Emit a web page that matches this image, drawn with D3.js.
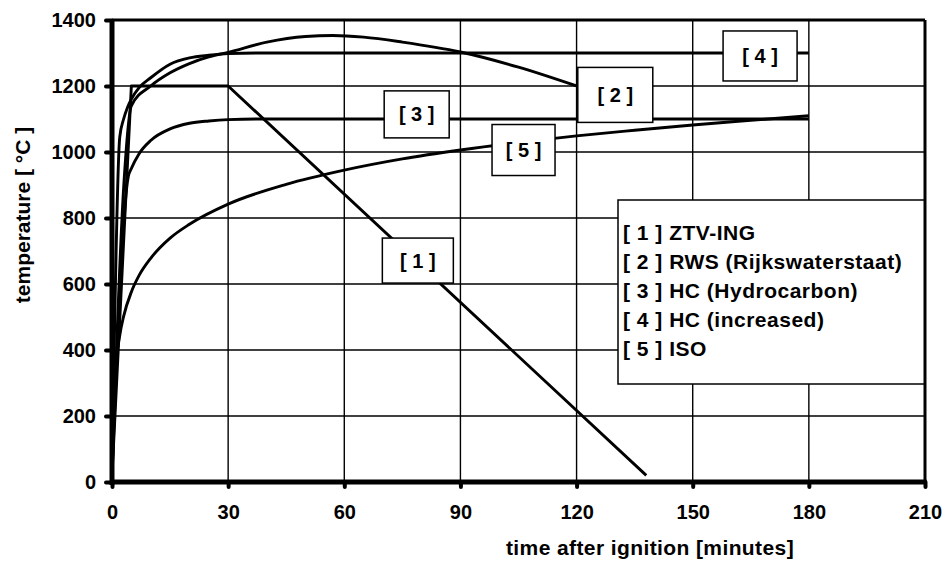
<!DOCTYPE html>
<html>
<head>
<meta charset="utf-8">
<script src="https://cdn.jsdelivr.net/npm/d3@7"></script>
<style>
  body { margin: 0; background: #fff; }
  svg { display: block; font-family: "Liberation Sans", Arial, sans-serif; font-weight: bold; }
</style>
</head>
<body>
<svg id="chart" width="948" height="563"></svg>
<script>
// ---- data -------------------------------------------------------------
const xTicks = [0, 30, 60, 90, 120, 150, 180, 210];
const yTicks = [0, 200, 400, 600, 800, 1000, 1200, 1400];

// [1] ZTV-ING
const ztvTime = [0, 5, 30, 138];
const ztvTemp = [20, 1200, 1200, 20];

// [2] RWS (Rijkswaterstaat)
const rwsTime = [0, 3, 5, 10, 15, 20, 25, 30, 40, 50, 57, 65, 75, 90, 105, 120];
const rwsTemp = [20, 890, 1140, 1200, 1240, 1268, 1288, 1302, 1333, 1350, 1353, 1348, 1333, 1303, 1257, 1200];

// [3] HC (Hydrocarbon)
const hcTime = [0, 4.2, 5, 7, 10, 15, 20, 25, 30, 40, 180];
const hcTemp = [20, 925, 950, 995, 1035, 1070, 1087, 1094, 1098, 1100, 1100];

// [4] HC (increased)
const hciTime = [0, 2, 3, 4, 5, 7, 10, 15, 20, 25, 30, 40, 180];
const hciTemp = [20, 1045, 1100, 1135, 1160, 1195, 1225, 1266, 1285, 1293, 1298, 1300, 1300];

// [5] ISO
const isoTime = [0, 1, 2, 3, 5, 7, 10, 15, 20, 30, 45, 60, 75, 90, 105, 120, 135, 150, 165, 180];
const isoTemp = [20, 349, 444, 502, 576, 626, 678, 739, 781, 842, 902, 945, 979, 1006, 1029, 1049, 1066, 1082, 1096, 1110];

const seriesTags = ["[ 1 ]", "[ 2 ]", "[ 3 ]", "[ 4 ]", "[ 5 ]"];
const seriesNames = ["ZTV-ING", "RWS (Rijkswaterstaat)", "HC (Hydrocarbon)", "HC (increased)", "ISO"];

// ---- layout -----------------------------------------------------------
const svg = d3.select("#chart");
const plotL = 112, plotR = 925, plotT = 20, plotB = 482;

const x = d3.scaleLinear().domain([0, 210]).range([plotL, plotR]);
const y = d3.scaleLinear().domain([0, 1400]).range([plotB, plotT]);

// grid
const grid = svg.append("g");
grid.selectAll("line.v").data(xTicks.slice(1, -1)).join("line")
  .attr("x1", d => x(d)).attr("x2", d => x(d))
  .attr("y1", y(1400)).attr("y2", y(0))
  .attr("stroke", "#000").attr("stroke-width", 1.4);
grid.selectAll("line.h").data(yTicks.slice(1, -1)).join("line")
  .attr("x1", x(0)).attr("x2", x(210))
  .attr("y1", d => y(d)).attr("y2", d => y(d))
  .attr("stroke", "#000").attr("stroke-width", 1.4);

// curves
const toPts = (t, v) => t.map((d, i) => [d, v[i]]);
const smooth = d3.line().x(d => x(d[0])).y(d => y(d[1])).curve(d3.curveMonotoneX);
const straight = d3.line().x(d => x(d[0])).y(d => y(d[1]));

const curves = svg.append("g")
  .attr("fill", "none").attr("stroke", "#000")
  .attr("stroke-width", 2.9).attr("stroke-linejoin", "round");
curves.append("path").attr("d", smooth(toPts(isoTime, isoTemp)));
curves.append("path").attr("d", smooth(toPts(hcTime, hcTemp)));
curves.append("path").attr("d", smooth(toPts(hciTime, hciTemp)));
curves.append("path").attr("d", smooth(toPts(rwsTime, rwsTemp)));
curves.append("path").attr("d", straight(toPts(ztvTime, ztvTemp)));

// tag boxes placed on each curve
const tagBoxes = [
  { i: 0, t: 79, v: 671, w: 71, h: 45 },
  { i: 1, t: 130, v: 1173, w: 75, h: 55 },
  { i: 2, t: 78.7, v: 1114, w: 65, h: 47 },
  { i: 3, t: 167.4, v: 1291, w: 74, h: 50 },
  { i: 4, t: 106.3, v: 1006, w: 63, h: 51 }
];
const tags = svg.append("g").selectAll("g").data(tagBoxes).join("g")
  .attr("transform", d => `translate(${x(d.t)},${y(d.v)})`);
tags.append("rect")
  .attr("x", d => -d.w / 2).attr("y", d => -d.h / 2)
  .attr("width", d => d.w).attr("height", d => d.h)
  .attr("fill", "#fff").attr("stroke", "#000").attr("stroke-width", 1.5);
tags.append("text")
  .attr("text-anchor", "middle").attr("dy", "0.35em")
  .attr("font-size", 20)
  .text(d => seriesTags[d.i]);

// legend
const lg = svg.append("g");
lg.append("rect")
  .attr("x", 618).attr("y", 200).attr("width", plotR - 618).attr("height", 184)
  .attr("fill", "#fff").attr("stroke", "#000").attr("stroke-width", 1.5);
lg.selectAll("text").data(seriesNames).join("text")
  .attr("x", 623).attr("y", (d, i) => 240 + i * 29)
  .attr("font-size", 21).attr("letter-spacing", 0.5)
  .text((d, i) => seriesTags[i] + " " + d);

// plot frame: top and right edges
svg.append("line").attr("x1", x(0)).attr("x2", x(210)).attr("y1", y(1400)).attr("y2", y(1400))
  .attr("stroke", "#000").attr("stroke-width", 3);
svg.append("line").attr("x1", x(210)).attr("x2", x(210)).attr("y1", y(1400)).attr("y2", y(0))
  .attr("stroke", "#000").attr("stroke-width", 3);

// axes
const yAxis = svg.append("g").attr("transform", `translate(${x(0)},0)`)
  .call(d3.axisLeft(y).tickValues(yTicks).tickSize(6).tickPadding(10).tickFormat(d3.format("d")));
const xAxis = svg.append("g").attr("transform", `translate(0,${y(0)})`)
  .call(d3.axisBottom(x).tickValues(xTicks).tickSize(5).tickPadding(18).tickFormat(d3.format("d")));

[yAxis, xAxis].forEach(a => {
  a.select(".domain").attr("stroke", "#000").attr("stroke-width", 5);
  a.selectAll(".tick line").attr("stroke", "#000").attr("stroke-width", 4).attr("stroke-linecap", "round");
  a.selectAll(".tick text").attr("fill", "#000").attr("font-size", 20)
    .attr("font-family", "'Liberation Sans', Arial, sans-serif").attr("font-weight", "bold");
});
yAxis.select(".domain").attr("d", `M0,${y(0) + 3}V${y(1400) - 1}`);
xAxis.select(".domain").attr("d", `M${x(0) - 2},0H${x(210) + 1.5}`);

// axis titles
svg.append("text")
  .attr("x", 650).attr("y", 555)
  .attr("text-anchor", "middle").attr("font-size", 21).attr("letter-spacing", 0.4)
  .text("time after ignition [minutes]");
svg.append("text")
  .attr("transform", "translate(30,215) rotate(-90)")
  .attr("text-anchor", "middle").attr("font-size", 21)
  .text("temperature [ °C ]");
</script>
</body>
</html>
